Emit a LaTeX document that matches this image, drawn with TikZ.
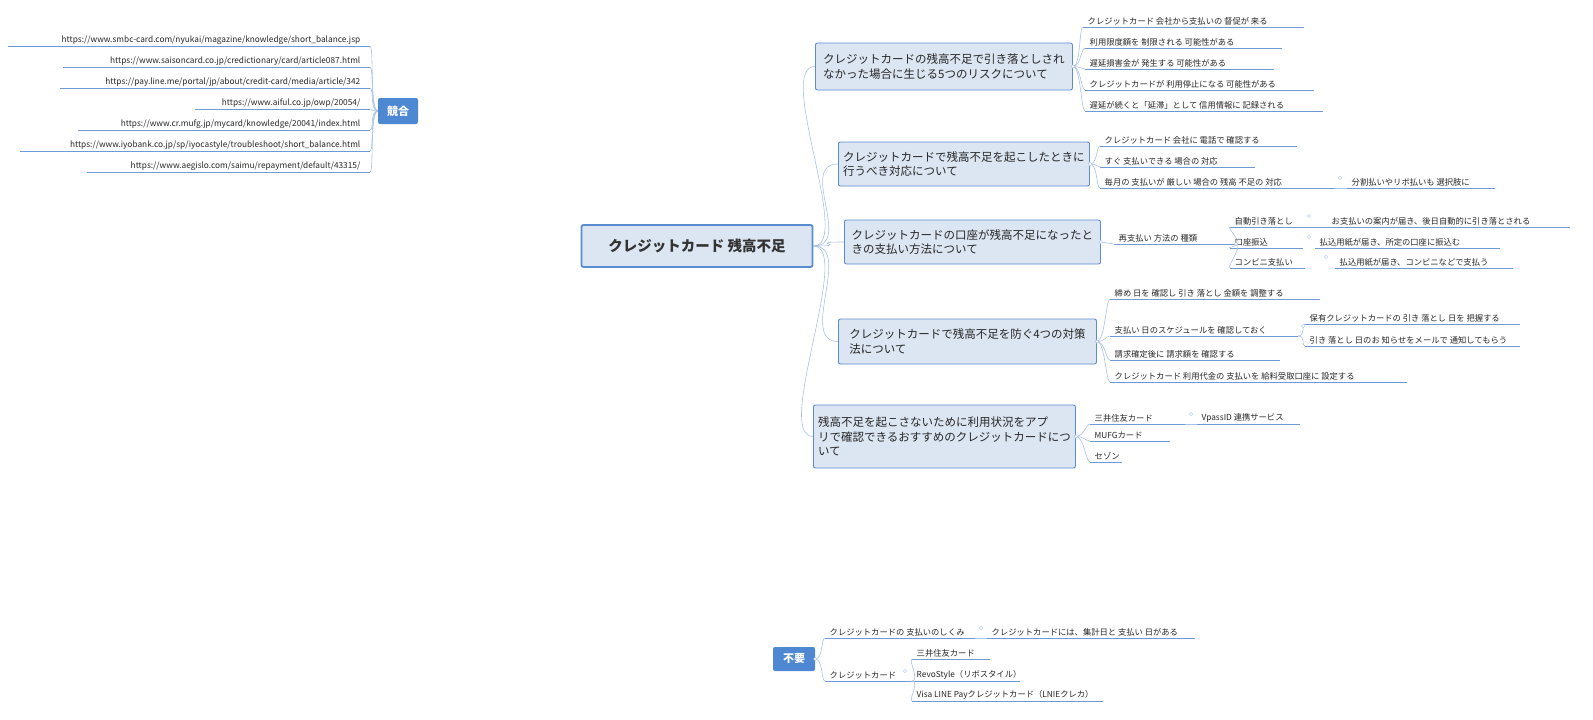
\documentclass[tikz,border=0pt]{standalone}
\usepackage{fontspec}
\setmainfont{Noto Sans CJK JP}
\begin{document}
\begin{tikzpicture}[x=1pt,y=-1pt,
  conn/.style={draw=conncol,line width=0.6pt},
  ul/.style={draw=ulcol,line width=1pt},
  leaf/.style={inner sep=1.5pt,font=\fontsize{8.3}{9}\selectfont,text=black!85},
  topic/.style={draw=topb,fill=topf,rounded corners=2pt,line width=0.9pt,align=left,inner sep=4pt,font=\fontsize{11.5}{14.5}\selectfont,text=black!85},
  tag/.style={fill=tagc,rounded corners=2pt,text=white,font=\fontsize{11}{12}\selectfont\bfseries,inner sep=4pt},
  dot/.style={circle,draw=conncol,fill=white,inner sep=1.2pt}]
\definecolor{conncol}{HTML}{A9C1E8}
\definecolor{ulcol}{HTML}{6F9AD8}
\definecolor{topb}{HTML}{5B8BD0}
\definecolor{topf}{HTML}{DCE6F2}
\definecolor{tagc}{HTML}{4F88D2}
\useasboundingbox (0,0) rectangle (1593,720);
\newcommand\lf[5]{\coordinate (#1) at (#2,#4);\coordinate (#1e) at (#3,#4);
  \node[leaf,anchor=south west] (#1t) at (#2+3,#4) {#5};\draw[ul] (#1)--(#1e);}
\newcommand\rl[4]{\coordinate (#1) at (370,#3);\coordinate (#1e) at (#2,#3);
  \node[leaf,anchor=south east] (#1t) at (362,#3) {#4};\draw[ul] (#1e)--(#1);}
\newcommand\cn[2]{\draw[conn] (#1) .. controls +(8,0) and +(-8,0) .. (#2);}

% root
\node[draw=topb,fill=topf,line width=1.8pt,rounded corners=2pt,minimum width=231pt,minimum height=42pt,font=\fontsize{14.5}{16}\selectfont\bfseries,text=black!80] (root) at (697,246) {クレジットカード 残高不足};

% topics
\node[topic,anchor=west,minimum width=257pt,minimum height=47pt] (t1) at (815,66.5) {クレジットカードの残高不足で引き落としされ\\なかった場合に生じる5つのリスクについて};
\node[topic,anchor=west,minimum width=251pt,minimum height=44pt] (t2) at (838,164) {クレジットカードで残高不足を起こしたときに\\行うべき対応について};
\node[topic,anchor=west,minimum width=256pt,minimum height=44pt] (t3) at (844,242) {クレジットカードの口座が残高不足になったと\\きの支払い方法について};
\node[topic,anchor=west,minimum width=258pt,minimum height=45pt] (t4) at (838,341.5) {クレジットカードで残高不足を防ぐ4つの対策\\法について};
\node[topic,anchor=west,minimum width=262pt,minimum height=63pt] (t5) at (813,436.5) {残高不足を起こさないために利用状況をアプ\\リで確認できるおすすめのクレジットカードにつ\\いて};
\foreach \t in {t1,t2,t3,t4,t5}{\draw[conn] (root.east) .. controls +(40,0) and +(-40,0) .. (\t.west);}

% T1 leaves
\lf{a1}{1083}{1304}{27}{クレジットカード 会社から支払いの 督促が 来る}
\lf{a2}{1085}{1282}{48}{利用限度額を 制限される 可能性がある}
\lf{a3}{1085}{1274}{69}{遅延損害金が 発生する 可能性がある}
\lf{a4}{1085}{1314}{90}{クレジットカードが 利用停止になる 可能性がある}
\lf{a5}{1085}{1323}{111}{遅延が続くと「延滞」として 信用情報に 記録される}
\foreach \l in {a1,a2,a3,a4,a5}{\draw[conn] (t1.east) .. controls +(8,0) and +(-4,0) .. (\l);}
\node[dot] at (t1.east) {};

% T2 leaves
\lf{b1}{1100}{1297}{146}{クレジットカード 会社に 電話で 確認する}
\lf{b2}{1100}{1255}{167}{すぐ 支払いできる 場合の 対応}
\lf{b3}{1100}{1335}{188}{毎月の 支払いが 厳しい 場合の 残高 不足の 対応}
\lf{b4}{1347}{1495}{188}{分割払いやリボ払いも 選択肢に}
\foreach \l in {b1,b2,b3}{\draw[conn] (t2.east) .. controls +(8,0) and +(-4,0) .. (\l);}
\draw[conn] (b3e)--(b4); \node[dot] at (1340,178) {};
\node[dot] at (t2.east) {};

% T3 leaves
\lf{c0}{1114}{1236}{244}{再支払い 方法の 種類}
\draw[conn] (t3.east)--(c0);
\lf{c1}{1230}{1327}{227}{自動引き落とし}
\lf{c2}{1230}{1303}{248}{口座振込}
\lf{c3}{1230}{1305}{268}{コンビニ支払い}
\lf{d1}{1327}{1570}{227}{お支払いの案内が届き、後日自動的に引き落とされる}
\lf{d2}{1315}{1500}{248}{払込用紙が届き、所定の口座に振込む}
\lf{d3}{1335}{1513}{268}{払込用紙が届き、コンビニなどで支払う}
\foreach \l in {c1,c2,c3}{\draw[conn] (c0e) .. controls +(8,0) and +(-4,0) .. (\l);}
\node[dot] at (1309,216) {};\node[dot] at (1309,237) {};\node[dot] at (1326,257) {};
\node[dot] at (t3.east) {};\node[dot] at (c0e) {};

% T4 leaves
\lf{e1}{1110}{1320}{299}{締め 日を 確認し 引き 落とし 金額を 調整する}
\lf{e2}{1110}{1298}{336}{支払い 日のスケジュールを 確認しておく}
\lf{e3}{1110}{1280}{360}{請求確定後に 請求額を 確認する}
\lf{e4}{1110}{1407}{382}{クレジットカード 利用代金の 支払いを 給料受取口座に 設定する}
\lf{f1}{1305}{1520}{324}{保有クレジットカードの 引き 落とし 日を 把握する}
\lf{f2}{1305}{1520}{346}{引き 落とし 日のお 知らせをメールで 通知してもらう}
\foreach \l in {e1,e2,e3,e4}{\draw[conn] (t4.east) .. controls +(8,0) and +(-4,0) .. (\l);}
\foreach \l in {f1,f2}{\draw[conn] (e2e) .. controls +(8,0) and +(-4,0) .. (\l);}
\node[dot] at (t4.east) {};\node[dot] at (1303,326) {};

% T5 leaves
\lf{g1}{1090}{1185}{424}{三井住友カード}
\lf{g2}{1197}{1300}{424}{VpassID 連携サービス}
\lf{g3}{1090}{1170}{441}{MUFGカード}
\lf{g4}{1090}{1122}{462}{セゾン}
\foreach \l in {g1,g3,g4}{\draw[conn] (t5.east) .. controls +(8,0) and +(-4,0) .. (\l);}
\draw[conn] (g1e)--(g2); \node[dot] at (1191,414) {};
\node[dot] at (t5.east) {};

% 競合
\node[tag,minimum width=40pt,minimum height=26pt] (k) at (398,111) {競合};
\rl{u1}{8}{46}{https://www.smbc-card.com/nyukai/magazine/knowledge/short\_balance.jsp}
\rl{u2}{63}{67}{https://www.saisoncard.co.jp/credictionary/card/article087.html}
\rl{u3}{60}{88}{https://pay.line.me/portal/jp/about/credit-card/media/article/342}
\rl{u4}{195}{109}{https://www.aiful.co.jp/owp/20054/}
\rl{u5}{78}{130}{https://www.cr.mufg.jp/mycard/knowledge/20041/index.html}
\rl{u6}{20}{151}{https://www.iyobank.co.jp/sp/iyocastyle/troubleshoot/short\_balance.html}
\rl{u7}{87}{172}{https://www.aegislo.com/saimu/repayment/default/43315/}
\foreach \l in {u1,u2,u3,u4,u5,u6,u7}{\draw[conn] (k.west) .. controls +(-8,0) and +(4,0) .. (\l);}

% 不要
\node[tag,minimum width=42pt,minimum height=24pt] (f) at (794,659) {不要};
\lf{h1}{825}{975}{638}{クレジットカードの 支払いのしくみ}
\lf{h2}{987}{1195}{638}{クレジットカードには、集計日と 支払い 日がある}
\lf{h3}{825}{912}{681}{クレジットカード}
\lf{i1}{912}{990}{659}{三井住友カード}
\lf{i2}{912}{1020}{681}{RevoStyle（リボスタイル）}
\lf{i3}{912}{1103}{701}{Visa LINE Payクレジットカード（LNIEクレカ）}
\foreach \l in {h1,h3}{\draw[conn] (f.east) .. controls +(8,0) and +(-4,0) .. (\l);}
\draw[conn] (h1e)--(h2); \node[dot] at (981,628) {};
\foreach \l in {i1,i2,i3}{\draw[conn] (h3e) .. controls +(8,0) and +(-4,0) .. (\l);}
\node[dot] at (f.east) {};\node[dot] at (905,671) {};
\end{tikzpicture}
\end{document}
